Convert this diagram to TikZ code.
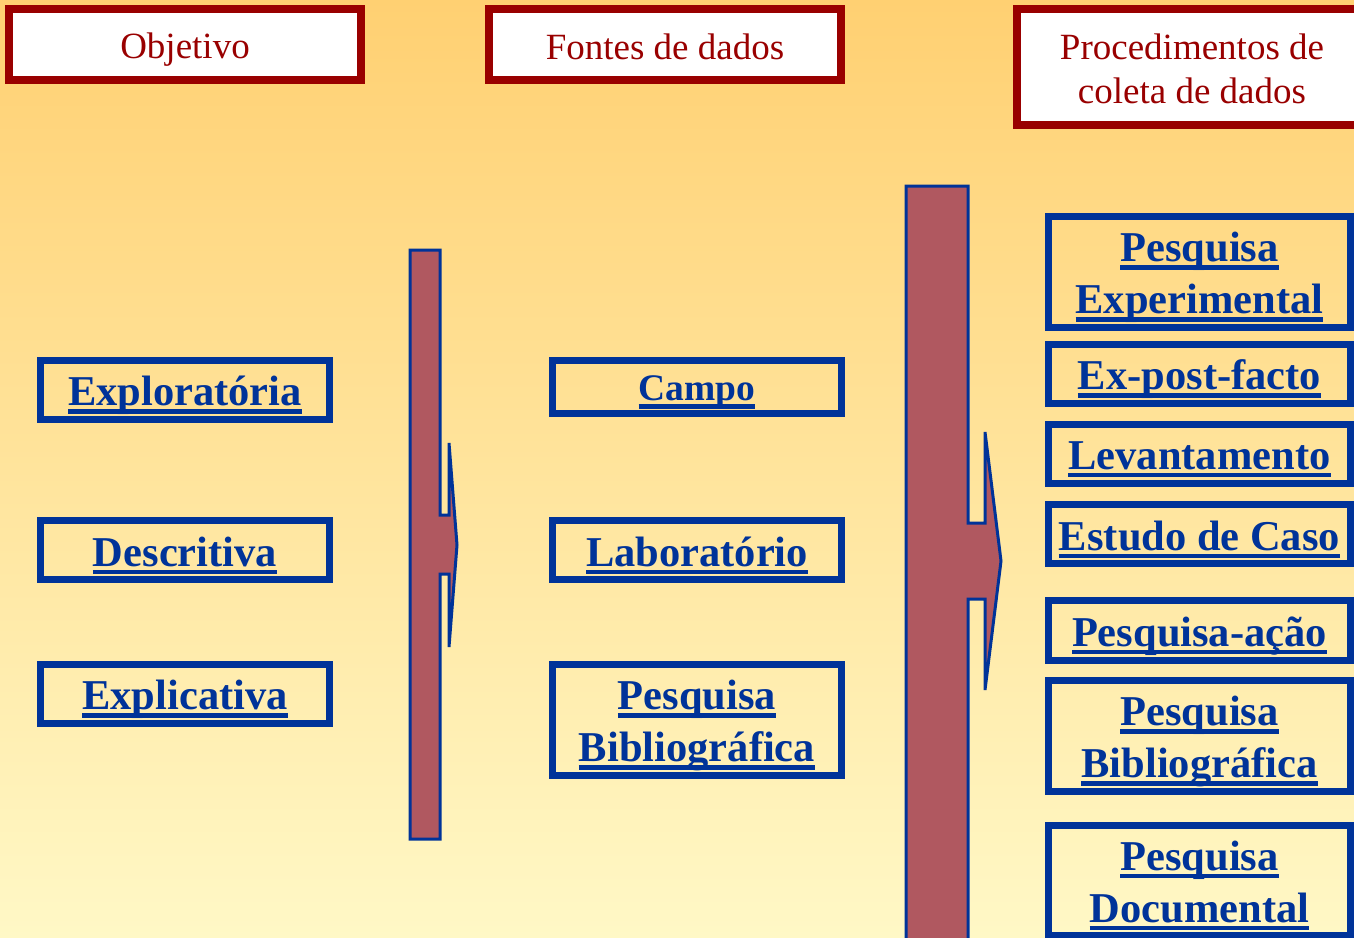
\documentclass[tikz,border=0pt]{standalone}
\usepackage{fontspec}
\setmainfont{Liberation Serif}
\newcommand{\myul}[1]{\leavevmode\raisebox{-5.5pt}[\height][\depth]{\setbox0=\hbox{#1}\rlap{\rule[-8pt]{\wd0}{4.5pt}}\box0}}
\newcommand{\hdrtext}[2][-2pt]{\raisebox{#1}[\height][\depth]{#2}}
\definecolor{bgtop}{RGB}{255,208,114}
\definecolor{bgbot}{RGB}{255,248,198}
\definecolor{hdrred}{RGB}{153,0,0}
\definecolor{boxblue}{RGB}{0,51,153}
\definecolor{arrowfill}{RGB}{176,88,96}
\tikzset{
  hdr/.style={draw=hdrred, line width=8pt, fill=white, text=hdrred, inner sep=0pt,
    align=center, font=\fontsize{37}{44}\selectfont},
  bbox/.style={draw=boxblue, line width=7pt, text=boxblue, inner sep=0pt,
    align=center, font=\bfseries\fontsize{42.5}{52}\selectfont},
  bigarrow/.style={draw=boxblue, line width=3pt, fill=arrowfill, line join=miter},
}
\begin{document}
\begin{tikzpicture}[x=1pt,y=-1pt]
\useasboundingbox (0,0) rectangle (1354,937);
\clip (0,0) rectangle (1354,937);
\shade[top color=bgtop, bottom color=bgbot] (0,0) rectangle (1354,937);

% big arrows
\draw[bigarrow] (410,250) -- (440,250) -- (440,515) -- (449,515) -- (449,443) -- (457,545)
  -- (449,647) -- (449,574) -- (440,574) -- (440,839) -- (410,839) -- cycle;
\draw[bigarrow] (906,186) -- (968,186) -- (968,523) -- (985,523) -- (985,432) -- (1001,561)
  -- (985,690) -- (985,599) -- (968,599) -- (968,945) -- (906,945) -- cycle;

% headers
\node[hdr, minimum width=352pt, minimum height=71pt] (objetivo) at (185,44.5) {\hdrtext[-5pt]{Objetivo}};
\node[hdr, minimum width=352pt, minimum height=71pt] (fontes) at (665,44.5) {\hdrtext{Fontes de dados}};
\node[hdr, minimum width=350pt, minimum height=116pt] (proced) at (1192,67) {\hdrtext{Procedimentos de}\\\hdrtext{coleta de dados}};

% left column
\node[bbox, minimum width=289pt, minimum height=59pt] (explo) at (185,390) {\myul{Exploratória}};
\node[bbox, minimum width=289pt, minimum height=59pt] (descr) at (185,550) {\myul{Descritiva}};
\node[bbox, minimum width=289pt, minimum height=59pt] (expli) at (185,694) {\myul{Explicativa}};

% middle column
\node[bbox, minimum width=289pt, minimum height=53pt, font=\bfseries\fontsize{37.5}{46}\selectfont] (campo) at (697,387) {\myul{Campo}};
\node[bbox, minimum width=289pt, minimum height=59pt] (lab) at (697,550) {\myul{Laboratório}};
\node[bbox, minimum width=289pt, minimum height=111pt] (pbib1) at (697,720) {\myul{Pesquisa}\\\myul{Bibliográfica}};

% right column
\node[bbox, minimum width=302pt, minimum height=111pt] (pexp) at (1199.5,272) {\myul{Pesquisa}\\\myul{Experimental}};
\node[bbox, minimum width=302pt, minimum height=59pt] (expost) at (1199.5,374) {\myul{Ex-post-facto}};
\node[bbox, minimum width=302pt, minimum height=59pt] (levant) at (1199.5,454) {\myul{Levantamento}};
\node[bbox, minimum width=302pt, minimum height=59pt] (estudo) at (1199.5,534) {\myul{Estudo de Caso}};
\node[bbox, minimum width=302pt, minimum height=60pt] (pacao) at (1199.5,630.5) {\myul{Pesquisa-ação}};
\node[bbox, minimum width=302pt, minimum height=111pt] (pbib2) at (1199.5,736) {\myul{Pesquisa}\\\myul{Bibliográfica}};
\node[bbox, minimum width=302pt, minimum height=110pt] (pdoc) at (1199.5,880) {\myul{Pesquisa}\\\myul{Documental}};
\end{tikzpicture}
\end{document}
